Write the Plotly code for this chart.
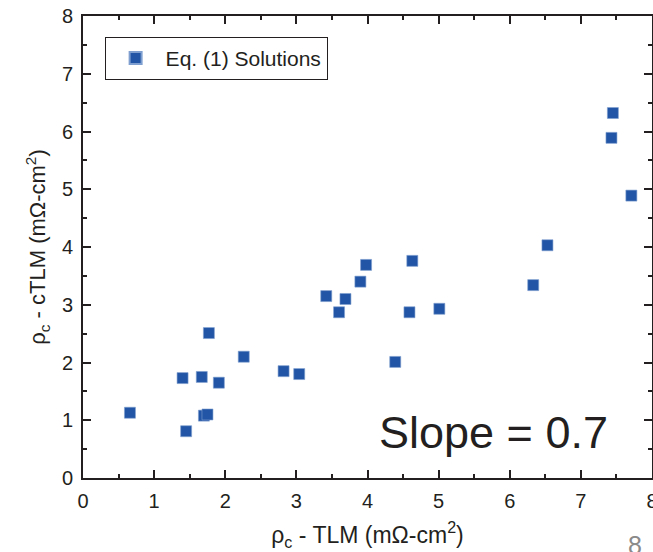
import plotly.graph_objects as go

x_tlm = [0.66, 1.40, 1.45, 1.67, 1.70, 1.75, 1.77, 1.91, 2.26, 2.82, 3.04,
         3.42, 3.60, 3.69, 3.90, 3.98, 4.39, 4.59, 4.63, 5.01, 6.33, 6.53,
         7.43, 7.45, 7.71]
y_ctlm = [1.13, 1.73, 0.81, 1.75, 1.08, 1.10, 2.51, 1.65, 2.10, 1.85, 1.80,
          3.15, 2.87, 3.10, 3.40, 3.69, 2.01, 2.87, 3.76, 2.93, 3.34, 4.03,
          5.89, 6.32, 4.89]
tick_vals = [0, 1, 2, 3, 4, 5, 6, 7, 8]
tick_text = ["0", "1", "2", "3", "4", "5", "6", "7", "8"]

font = "Liberation Sans, Arial, sans-serif"
axcol = "#231f20"

fig = go.Figure()
fig.add_trace(go.Scatter(
    x=x_tlm, y=y_ctlm, mode="markers", name="Eq. (1) Solutions",
    marker=dict(symbol="square", size=11, color="#2255a5",
                line=dict(width=0.6, color="#7f9fd0")),
))

axis_common = dict(
    range=[0, 8], tickmode="array", tickvals=tick_vals, ticktext=tick_text,
    ticks="inside", ticklen=8, tickwidth=1.5, tickcolor=axcol,
    showline=True, linecolor=axcol, linewidth=2, mirror="ticks",
    showgrid=False, zeroline=False, automargin=False,
    ticklabeloverflow="allow",
    tickfont=dict(family=font, size=20, color="#231f20"),
    minor=dict(dtick=0.5, tick0=0, ticks="inside", ticklen=4, tickwidth=1.5,
               tickcolor=axcol, showgrid=False),
)

fig.update_xaxes(**axis_common, ticklabelstandoff=4,
                 title=dict(text="ρ<sub>c</sub> - TLM (mΩ-cm<sup>2</sup>)",
                            font=dict(family=font, size=23, color="#231f20"),
                            standoff=16))
fig.update_yaxes(**axis_common, ticklabelstandoff=4,
                 title=dict(text="ρ<sub>c</sub> - cTLM (mΩ-cm<sup>2</sup>)",
                            font=dict(family=font, size=22, color="#231f20"),
                            standoff=10))

fig.add_annotation(x=5.77, y=0.79, xref="x", yref="y", text="Slope = 0.7",
                   showarrow=False, xanchor="center", yanchor="middle",
                   font=dict(family=font, size=45, color="#231f20"))
fig.add_annotation(x=0.970, y=-0.11, xref="paper", yref="paper", text="8",
                   showarrow=False, xanchor="center", yanchor="top",
                   font=dict(family=font, size=25, color="#8a8a8a"))

fig.update_layout(
    width=653, height=552,
    margin=dict(l=83, r=1, t=16, b=74),
    paper_bgcolor="white", plot_bgcolor="white",
    showlegend=True,
    legend=dict(x=0.038, y=0.955, xanchor="left", yanchor="top",
                bordercolor="#231f20", borderwidth=1, bgcolor="white",
                font=dict(family=font, size=21, color="#231f20"),
                itemsizing="constant", itemwidth=50),
)

fig.write_html(
    "out.html",
    config={"displayModeBar": False},
    post_script="document.body.style.margin='0';document.body.style.overflow='hidden';",
)
